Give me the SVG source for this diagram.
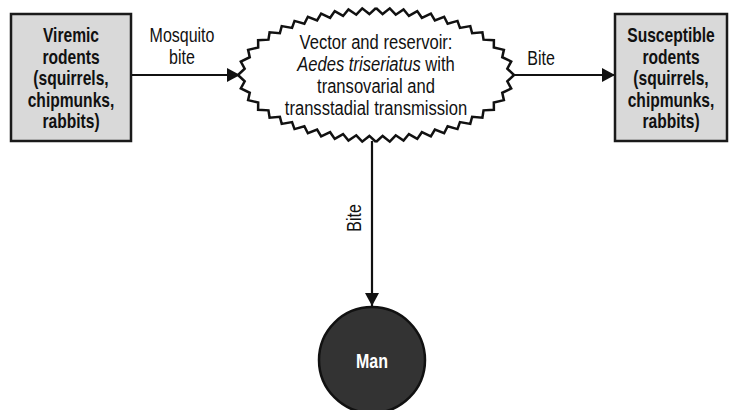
<svg xmlns="http://www.w3.org/2000/svg" width="729" height="410" viewBox="0 0 729 410">
<style>
.box{fill:#d9d9d9;stroke:#1a1a1a;stroke-width:2.5}
.bt{font-family:"Liberation Sans",Arial,sans-serif;font-weight:bold;font-size:20px;fill:#111;text-anchor:middle}
.et{font-family:"Liberation Sans",Arial,sans-serif;font-size:21px;fill:#111;text-anchor:middle}
.lt{font-family:"Liberation Sans",Arial,sans-serif;font-size:19.5px;fill:#111;text-anchor:middle}
.mt{font-family:"Liberation Sans",Arial,sans-serif;font-weight:bold;font-size:19.5px;fill:#fff;text-anchor:middle}
.zz{fill:none;stroke:#111;stroke-width:2.5;stroke-linejoin:miter}
.con{stroke:#111;stroke-width:2.2;fill:none;marker-end:url(#ah)}
</style>
<defs>
<marker id="ah" markerUnits="userSpaceOnUse" markerWidth="14" markerHeight="14" refX="13" refY="7" orient="auto">
<path d="M0,0 L13,7 L0,14 z" fill="#111"/>
</marker>
<polyline id="q" points="138,0 131.31,6.24 135.19,13.46 126.25,17.81 127.89,25.18 117.82,27.50 117.89,34.83 107.54,35.37 106.40,42.67 96.14,41.80 94.27,48.93 83.95,47.08 81.48,54.08 71.65,51.23 68.13,58.26 58.90,54.59 54.86,61.48 45.88,57.20 41.24,63.94 32.94,59.07 27.54,65.65 19.74,60.31 13.78,66.67 6.61,60.92 0,67"/>
</defs>
<rect width="729" height="410" fill="#fff"/>
<g id="connectors">
<line class="con" x1="131" y1="75" x2="240" y2="75"/>
<line class="con" x1="512" y1="75" x2="615" y2="75"/>
<line class="con" x1="372" y1="141" x2="372" y2="306"/>
<text class="lt" transform="matrix(0.82 0 0 1 182 42)">Mosquito</text>
<text class="lt" transform="matrix(0.82 0 0 1 182 64)">bite</text>
<text class="lt" transform="matrix(0.82 0 0 1 541 65)">Bite</text>
<text class="lt" transform="translate(361,218) rotate(-90) scale(0.82,1)">Bite</text>
</g>
<g id="viremic">
<rect class="box" x="11" y="14" width="120" height="127"/>
<text class="bt" transform="matrix(0.78 0 0 1 71 42)">Viremic</text>
<text class="bt" transform="matrix(0.78 0 0 1 71 63.5)">rodents</text>
<text class="bt" transform="matrix(0.78 0 0 1 71 85)">(squirrels,</text>
<text class="bt" transform="matrix(0.78 0 0 1 71 106.5)">chipmunks,</text>
<text class="bt" transform="matrix(0.78 0 0 1 71 128)">rabbits)</text>
</g>
<g id="vector">
<g transform="translate(376,75)">
<ellipse cx="0" cy="0" rx="134" ry="63" fill="#fff"/>
<use href="#q" class="zz"/>
<use href="#q" class="zz" transform="scale(-1,1)"/>
<use href="#q" class="zz" transform="scale(1,-1)"/>
<use href="#q" class="zz" transform="scale(-1,-1)"/>
</g>
<text class="et" transform="matrix(0.79 0 0 1 376 49)">Vector and reservoir:</text>
<text class="et" transform="matrix(0.79 0 0 1 376 71)"><tspan font-style="italic">Aedes triseriatus</tspan> with</text>
<text class="et" transform="matrix(0.79 0 0 1 376 93)">transovarial and</text>
<text class="et" transform="matrix(0.79 0 0 1 376 115)">transstadial transmission</text>
</g>
<g id="susceptible">
<rect class="box" x="615" y="14" width="112" height="127"/>
<text class="bt" transform="matrix(0.78 0 0 1 671 42)">Susceptible</text>
<text class="bt" transform="matrix(0.78 0 0 1 671 63.5)">rodents</text>
<text class="bt" transform="matrix(0.78 0 0 1 671 85)">(squirrels,</text>
<text class="bt" transform="matrix(0.78 0 0 1 671 106.5)">chipmunks,</text>
<text class="bt" transform="matrix(0.78 0 0 1 671 128)">rabbits)</text>
</g>
<g id="man">
<circle cx="372" cy="360" r="53" fill="#333" stroke="#111" stroke-width="2.5"/>
<text class="mt" transform="matrix(0.82 0 0 1 372 368)">Man</text>
</g>
</svg>
